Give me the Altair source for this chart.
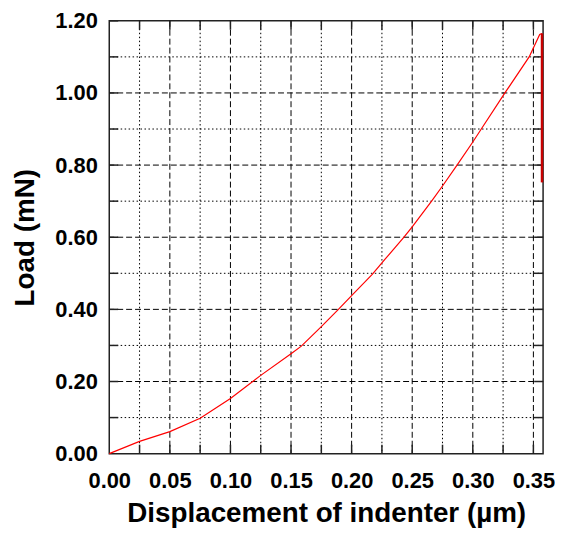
import altair as alt
import pandas as pd

# Loading curve (displacement in µm, load in mN)
disp = [0.0, 0.025, 0.05, 0.075, 0.10, 0.125, 0.15, 0.1585, 0.175, 0.1885, 0.20,
        0.217, 0.2276, 0.2432, 0.25, 0.266, 0.275, 0.287, 0.30, 0.307, 0.3265,
        0.3465, 0.3552, 0.3571]
load = [0.0, 0.034, 0.061, 0.098, 0.153, 0.217, 0.277, 0.298, 0.352, 0.398, 0.438,
        0.497, 0.539, 0.60, 0.629, 0.70, 0.742, 0.80, 0.864, 0.90, 1.0,
        1.10, 1.162, 1.165]

# Unloading segment (vertical)
unload_disp = [0.3571, 0.3571]
unload_load = [1.165, 0.752]

x_label_vals = [0.0, 0.05, 0.10, 0.15, 0.20, 0.25, 0.30, 0.35]
y_label_vals = [0.0, 0.20, 0.40, 0.60, 0.80, 1.00, 1.20]
x_major = [0.05, 0.10, 0.15, 0.20, 0.25, 0.30, 0.35]
x_minor = [0.025, 0.075, 0.125, 0.175, 0.225, 0.275, 0.325]
y_major = [0.20, 0.40, 0.60, 0.80, 1.00]
y_minor = [0.10, 0.30, 0.50, 0.70, 0.90, 1.10]

W, H = 437, 436
FONT = "Liberation Sans"
X_TITLE = "Displacement of indenter (µm)"
Y_TITLE = "Load (mN)"

xs = alt.Scale(domain=[0, 0.358], nice=False, zero=False)
ys = alt.Scale(domain=[0, 1.2], nice=False, zero=False)
ax_x = alt.Axis(values=x_label_vals, format=".2f", labelFlush=False,
                labelOverlap=False, labelPadding=17, titlePadding=8)
ax_y = alt.Axis(values=y_label_vals, format=".2f", labelFlush=False,
                labelOverlap=False, labelPadding=12, titlePadding=15)


def X(field):
    return alt.X(field, scale=xs, axis=ax_x, title=X_TITLE)


def Y(field):
    return alt.Y(field, scale=ys, axis=ax_y, title=Y_TITLE)


curve_df = pd.DataFrame({"d": disp, "l": load})
unload_df = pd.DataFrame({"d": unload_disp, "l": unload_load})

xmaj_df = pd.DataFrame({"v": x_major})
xmin_df = pd.DataFrame({"v": x_minor})
ymaj_df = pd.DataFrame({"v": y_major})
ymin_df = pd.DataFrame({"v": y_minor})
xall_df = pd.DataFrame({"v": x_major + x_minor})
yall_df = pd.DataFrame({"v": y_major + y_minor + [1.2]})

grid_x_major = alt.Chart(xmaj_df).mark_rule(color="black", strokeWidth=1, strokeDash=[6, 3]).encode(
    x=X("v:Q"))
grid_x_minor = alt.Chart(xmin_df).mark_rule(color="black", strokeWidth=1, strokeDash=[1.5, 2.5]).encode(
    x=X("v:Q"))
grid_y_major = alt.Chart(ymaj_df).mark_rule(color="black", strokeWidth=1, strokeDash=[6, 3]).encode(
    y=Y("v:Q"))
grid_y_minor = alt.Chart(ymin_df).mark_rule(color="black", strokeWidth=1, strokeDash=[1.5, 2.5]).encode(
    y=Y("v:Q"))

TICK = 9
tick_bottom = alt.Chart(xall_df).mark_rule(color="#222", strokeWidth=1.5).encode(
    x=X("v:Q"), y=alt.value(H), y2=alt.value(H - TICK))
tick_top = alt.Chart(xall_df).mark_rule(color="#222", strokeWidth=1.5).encode(
    x=X("v:Q"), y=alt.value(0), y2=alt.value(TICK))
tick_left = alt.Chart(yall_df).mark_rule(color="#222", strokeWidth=1.5).encode(
    y=Y("v:Q"), x=alt.value(0), x2=alt.value(TICK))
tick_right = alt.Chart(yall_df).mark_rule(color="#222", strokeWidth=1.5).encode(
    y=Y("v:Q"), x=alt.value(W), x2=alt.value(W - TICK))

curve = alt.Chart(curve_df).mark_line(color="#ff0000", strokeWidth=1.2).encode(
    x=X("d:Q"), y=Y("l:Q"), order=alt.Order("d:Q"),
)

unload = alt.Chart(unload_df).mark_line(color="#c80000", strokeWidth=2.5).encode(
    x=X("d:Q"), y=Y("l:Q"),
)

chart = alt.layer(
    grid_x_minor, grid_y_minor, grid_x_major, grid_y_major,
    tick_bottom, tick_top, tick_left, tick_right,
    curve, unload,
).properties(
    width=W, height=H,
    padding={"left": 4, "top": 0, "right": 0, "bottom": 0},
).configure_view(
    stroke="#222", strokeWidth=1.5,
).configure_axis(
    domain=False, ticks=False, grid=False,
    labelFont=FONT, labelFontWeight="bold", labelFontSize=22, labelColor="black",
    titleFont=FONT, titleFontWeight="bold", titleFontSize=28, titleColor="black",
)

chart.save("out.html", embed_options={"renderer": "svg", "actions": False})
